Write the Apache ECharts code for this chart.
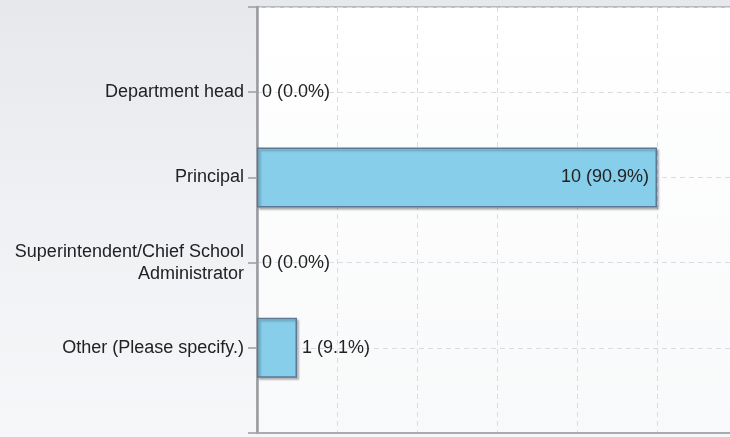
<!DOCTYPE html>
<html>
<head>
<meta charset="utf-8">
<script src="https://cdn.jsdelivr.net/npm/echarts@6/dist/echarts.min.js"></script>
<style>
  html, body { margin: 0; padding: 0; }
  #chart_example {
    width: 730px;
    height: 437px;
    background: linear-gradient(180deg, #e6e8ec 0%, #eef0f3 45%, #f6f7f9 100%);
  }
</style>
</head>
<body>
<div id="chart_example"></div>
<script>
// survey answers
var categories = ['Department head', 'Principal', 'Superintendent/Chief School\nAdministrator', 'Other (Please specify.)'];
var counts = [0, 10, 0, 1];
var xMin = 0, xMax = 12, xStep = 2;

var total = counts.reduce(function (a, b) { return a + b; }, 0);

// one empty slot above and below, so the answers sit inside the frame
var axisData = [''].concat(categories, ['']);
var barData = ['-'].concat(counts.map(function (v) {
  var item = {
    value: v,
    label: { position: v >= 5 ? 'insideRight' : 'right', distance: v >= 5 ? 8 : 5 }
  };
  if (v === 0) item.itemStyle = { borderWidth: 0, shadowColor: 'transparent' };
  return item;
}), ['-']);

var myChart = echarts.init(document.getElementById('chart_example'));

var option1 = {
  backgroundColor: 'transparent',
  textStyle: { fontFamily: 'Liberation Sans, Arial, sans-serif' },
  grid: {
    left: 257,
    top: 7,
    width: 480,
    height: 426,
    outerBoundsMode: 'none',
    containLabel: false,
    show: true,
    borderColor: '#a9abb0',
    borderWidth: 1.5,
    backgroundColor: new echarts.graphic.LinearGradient(0, 0, 0, 1, [
      { offset: 0, color: '#ffffff' },
      { offset: 1, color: '#f8f9fa' }
    ])
  },
  xAxis: {
    type: 'value',
    min: xMin,
    max: xMax,
    interval: xStep,
    axisLine: { show: true, lineStyle: { color: '#a9abb0', width: 2 } },
    axisTick: { show: false },
    axisLabel: { show: false },
    splitLine: { show: true, lineStyle: { color: '#dcdcdc', type: [5, 4], width: 1 } }
  },
  yAxis: {
    type: 'category',
    data: axisData,
    inverse: true,
    boundaryGap: false,
    axisLine: { show: true, lineStyle: { color: '#9a9ca0', width: 2.5 } },
    axisTick: { show: true, length: 9, lineStyle: { color: '#9a9ca0', width: 1.5 } },
    axisLabel: {
      margin: 13,
      color: '#222222',
      fontSize: 18,
      lineHeight: 22,
      fontFamily: 'Liberation Sans, Arial, sans-serif'
    },
    splitLine: { show: true, lineStyle: { color: '#dcdcdc', type: [5, 4], width: 1 } }
  },
  series: [
    {
      type: 'bar',
      data: barData,
      barWidth: 60,
      itemStyle: {
        color: '#87ceea',
        borderColor: '#5d7895',
        borderWidth: 1.5,
        shadowColor: 'rgba(0,0,0,0.25)',
        shadowBlur: 2,
        shadowOffsetX: 2,
        shadowOffsetY: 2
      },
      label: {
        show: true,
        color: '#222222',
        fontSize: 18,
        fontFamily: 'Liberation Sans, Arial, sans-serif',
        formatter: function (p) {
          var pct = total ? (p.value / total * 100).toFixed(1) : '0.0';
          return p.value + ' (' + pct + '%)';
        }
      },
      animation: false
    }
  ],
  animation: false
};

myChart.setOption(option1);
window.addEventListener('resize', function () { myChart.resize(); });
</script>
</body>
</html>
